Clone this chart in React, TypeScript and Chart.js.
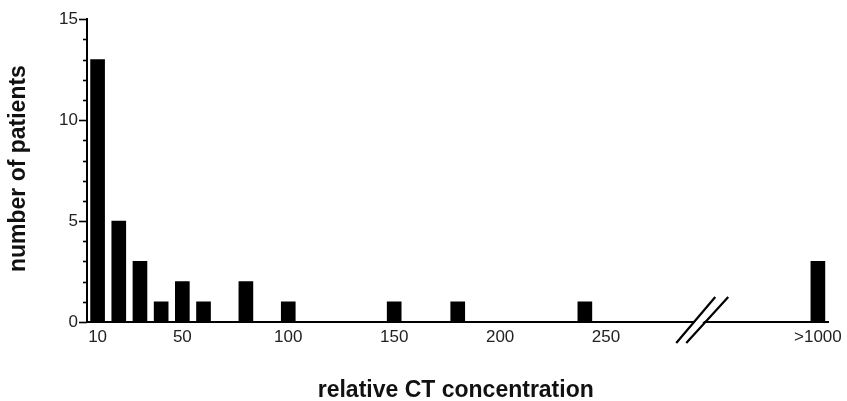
import React, { useEffect, useRef } from "react";
import { Chart, registerables } from "chart.js";

Chart.register(...registerables);

// Data (bin value -> number of patients); ">1000" bin is placed at GT1000_POS on the broken axis
const binValues = [10, 20, 30, 40, 50, 60, 80, 100, 150, 180, 240, 350];
const patientCounts = [13, 5, 3, 1, 2, 1, 2, 1, 1, 1, 1, 3];
const xTickValues = [10, 50, 100, 150, 200, 250, 350];
const GT1000_POS = 350;
const GT1000_LABEL = ">1000";
const BREAK_AT = 294;
const X_MIN = 5;
const X_MAX = 355;
const Y_MIN = 0;
const Y_MAX = 15;
const X_TITLE = "relative CT concentration";
const Y_TITLE = "number of patients";

const FONT = '"Liberation Sans", Arial, Helvetica, sans-serif';

const extrasPlugin = {
  id: "extras",
  afterDraw(chart: any) {
    const { ctx, chartArea } = chart;
    const xs = chart.scales.x;
    const ys = chart.scales.y;
    ctx.save();
    // y tick marks (major longer, minor shorter), outward
    ctx.strokeStyle = "#000";
    ctx.lineWidth = 1.6;
    for (let v = Y_MIN; v <= Y_MAX; v++) {
      const py = Math.round(ys.getPixelForValue(v)) + 0.5;
      const len = v % 5 === 0 ? 8 : 4;
      ctx.beginPath();
      ctx.moveTo(ys.right - len, py);
      ctx.lineTo(ys.right, py);
      ctx.stroke();
    }
    // axis break
    const bx = xs.getPixelForValue(BREAK_AT);
    const by = xs.top;
    ctx.fillStyle = "#fff";
    ctx.beginPath();
    ctx.moveTo(bx - 21, by + 19);
    ctx.lineTo(bx + 16, by - 23);
    ctx.lineTo(bx + 27, by - 23);
    ctx.lineTo(bx - 15, by + 19);
    ctx.closePath();
    ctx.fill();
    ctx.lineWidth = 2.2;
    ctx.strokeStyle = "#000";
    ctx.beginPath();
    ctx.moveTo(bx - 23, by + 21);
    ctx.lineTo(bx + 16, by - 25);
    ctx.moveTo(bx - 13, by + 21);
    ctx.lineTo(bx + 29, by - 25);
    ctx.stroke();
    // axis titles
    ctx.fillStyle = "#111";
    ctx.font = "bold 23px " + FONT;
    ctx.textAlign = "center";
    ctx.textBaseline = "alphabetic";
    ctx.fillText(X_TITLE, (chartArea.left + chartArea.right) / 2 - 2, 397);
    ctx.save();
    ctx.translate(25, (chartArea.top + chartArea.bottom) / 2 - 2);
    ctx.rotate(-Math.PI / 2);
    ctx.fillText(Y_TITLE, 0, 0);
    ctx.restore();
    ctx.restore();
  },
};

export default function App() {
  const ref = useRef<HTMLCanvasElement>(null);
  useEffect(() => {
    if (!ref.current) return;
    const chart = new Chart(ref.current, {
      type: "bar",
      data: {
        datasets: [
          {
            data: binValues.map((x, i) => ({ x, y: patientCounts[i] })),
            backgroundColor: "#000",
            borderWidth: 0,
            barThickness: 14,
          },
        ],
      },
      options: {
        animation: false,
        responsive: false,
        devicePixelRatio: 1,
        layout: { padding: { top: 17, right: 17, left: 0, bottom: 0 } },
        plugins: { legend: { display: false }, tooltip: { enabled: false } },
        scales: {
          x: {
            type: "linear",
            min: X_MIN,
            max: X_MAX,
            offset: false,
            grid: { display: false, drawTicks: false },
            border: { display: true, color: "#000", width: 2 },
            afterBuildTicks: (s: any) => {
              s.ticks = xTickValues.map((v) => ({ value: v }));
            },
            afterFit: (s: any) => {
              s.height = 79;
            },
            ticks: {
              autoSkip: false,
              maxRotation: 0,
              padding: 5,
              color: "#222",
              font: { family: FONT, size: 17 },
              callback: (v: any) => (v === GT1000_POS ? GT1000_LABEL : String(v)),
            },
          },
          y: {
            min: Y_MIN,
            max: Y_MAX,
            grid: { display: false, drawTicks: false },
            border: { display: true, color: "#000", width: 2 },
            afterFit: (s: any) => {
              s.width = 87;
            },
            ticks: {
              stepSize: 1,
              autoSkip: false,
              padding: 9,
              color: "#222",
              font: { family: FONT, size: 17 },
              callback: (v: any) => (v % 5 === 0 ? String(v) : ""),
            },
          },
        },
      },
      plugins: [extrasPlugin],
    });
    return () => chart.destroy();
  }, []);
  return (
    <div style={{ position: "fixed", left: 0, top: 0, width: 847, height: 401, background: "#fff" }}>
      <canvas ref={ref} width={847} height={401} />
    </div>
  );
}
